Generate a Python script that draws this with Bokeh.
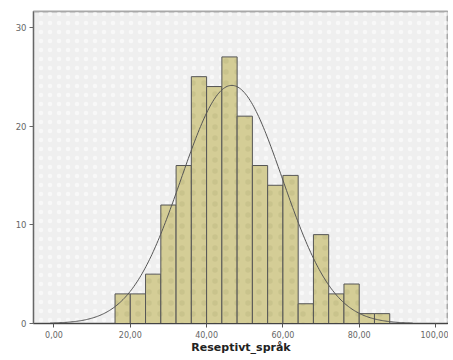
import numpy as np
from bokeh.plotting import figure
from bokeh.models import ColumnDataSource, FixedTicker, Range1d
from bokeh.embed import file_html
from bokeh.resources import INLINE

# ---- data ----
bin_left = [16, 20, 24, 28, 32, 36, 40, 44, 48, 52, 56, 60, 64, 68, 72, 76, 80, 84]
bin_width = 4
counts = [3, 3, 5, 12, 16, 25, 24, 27, 21, 16, 14, 15, 2, 9, 3, 4, 1, 1]

x_ticks = [0, 20, 40, 60, 80, 100]
x_tick_labels = ["0,00", "20,00", "40,00", "60,00", "80,00", "100,00"]
y_ticks = [0, 10, 20, 30]
y_tick_labels = ["0", "10", "20", "30"]
x_title = "Reseptivt_språk"

# fitted normal curve parameters (estimated)
curve_mean = 46.6
curve_sd = 13.3
curve_start = -1.0
curve_end = 94.0
n_total = sum(counts)

X_MIN, X_MAX = -5.37, 103.4
Y_MIN, Y_MAX = 0, 31.6

# ---- build sources ----
bars = ColumnDataSource(dict(
    left=bin_left,
    right=[b + bin_width for b in bin_left],
    top=counts,
))

cx = np.linspace(curve_start, curve_end, 300)
cy = n_total * bin_width / (curve_sd * np.sqrt(2 * np.pi)) * np.exp(-0.5 * ((cx - curve_mean) / curve_sd) ** 2)
curve = ColumnDataSource(dict(x=cx, y=cy))

p = figure(width=448, height=360, output_backend="svg", toolbar_location=None,
           x_range=Range1d(X_MIN, X_MAX), y_range=Range1d(Y_MIN, Y_MAX),
           min_border_left=33, min_border_right=0, min_border_top=11, min_border_bottom=37)

p.background_fill_color = "#efefef"
p.border_fill_color = "white"
p.outline_line_color = "#a8a8a8"
p.outline_line_width = 2
p.grid.visible = False

# faint dotted texture of the background
p.quad(left=[X_MIN], right=[X_MAX], bottom=[Y_MIN], top=[Y_MAX], fill_alpha=0, line_alpha=0,
       hatch_pattern=".", hatch_color="white", hatch_scale=9, hatch_weight=1, hatch_alpha=0.55)

p.quad(left="left", right="right", bottom=0, top="top", source=bars,
       fill_color="#d4cd96", line_color="#555555", line_width=1,
       hatch_pattern=".", hatch_color="#a9a270", hatch_scale=11, hatch_weight=0.6, hatch_alpha=0.25)

p.line("x", "y", source=curve, line_color="#555555", line_width=1)

# axes
xa = p.xaxis[0]
xa.ticker = FixedTicker(ticks=x_ticks)
xa.major_label_overrides = {t: l for t, l in zip(x_ticks, x_tick_labels)}
xa.major_label_text_font = "DejaVu Sans"
xa.major_label_text_font_size = "8px"
xa.major_label_text_color = "#666666"
xa.major_label_standoff = 3
xa.major_tick_in = 0
xa.major_tick_out = 4
xa.minor_tick_line_color = None
xa.axis_line_color = "#444444"
xa.major_tick_line_color = "#555555"
xa.axis_label = x_title
xa.axis_label_text_font = "DejaVu Sans"
xa.axis_label_text_font_style = "bold"
xa.axis_label_text_font_size = "11px"
xa.axis_label_text_color = "#222222"
xa.axis_label_standoff = 0

ya = p.yaxis[0]
ya.ticker = FixedTicker(ticks=y_ticks)
ya.major_label_overrides = {t: l for t, l in zip(y_ticks, y_tick_labels)}
ya.major_label_text_font = "DejaVu Sans"
ya.major_label_text_font_size = "8.5px"
ya.major_label_text_color = "#666666"
ya.major_label_standoff = 3
ya.major_tick_in = 0
ya.major_tick_out = 4
ya.minor_tick_line_color = None
ya.axis_line_color = "#666666"
ya.major_tick_line_color = "#666666"

open("out.html", "w").write(file_html(p, INLINE))
